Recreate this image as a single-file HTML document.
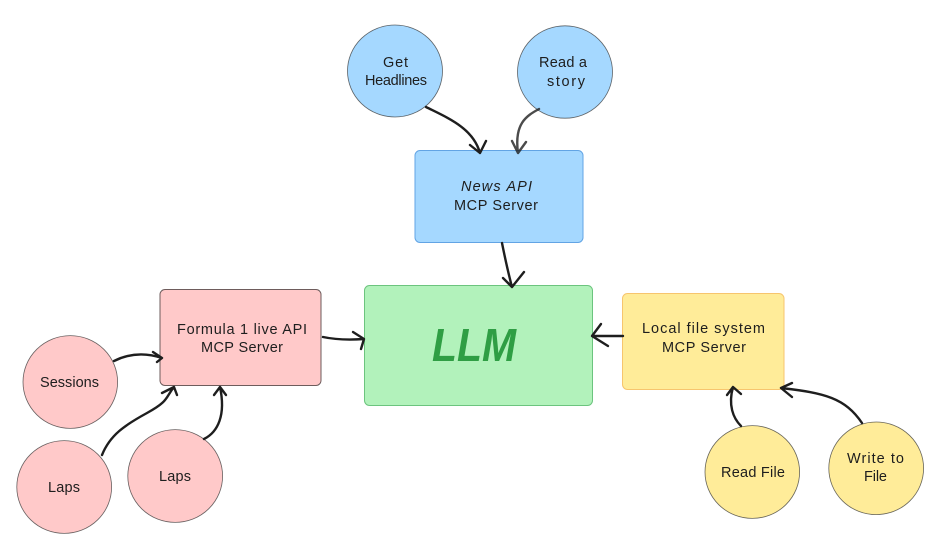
<!DOCTYPE html>
<html>
<head>
<meta charset="utf-8">
<style>
html,body{margin:0;padding:0;background:#fff;width:945px;height:558px;overflow:hidden}
svg{display:block}
text{font-family:"Liberation Sans",sans-serif;font-size:14.5px;fill:#1e1e1e}
.c{stroke:#2a2a2a;stroke-width:.8;stroke-opacity:.7}
.a{fill:none;stroke:#1e1e1e;stroke-width:2.4;stroke-linecap:round;stroke-linejoin:round}
</style>
</head>
<body>
<svg width="945" height="558" viewBox="0 0 945 558" xmlns="http://www.w3.org/2000/svg">
<rect width="945" height="558" fill="#fff"/>

<rect x="415" y="150.5" width="168" height="92" rx="5" fill="#a5d8ff" stroke="#62a4e4" stroke-width="1"/>
<rect x="364.5" y="285.5" width="228" height="120" rx="5" fill="#b2f2bb" stroke="#6cc47e" stroke-width="1"/>
<rect x="160" y="289.5" width="161" height="96" rx="5" fill="#ffc9c9" stroke="#6e5c5c" stroke-width="1"/>
<rect x="622.5" y="293.5" width="161.5" height="96" rx="5" fill="#ffec99" stroke="#f7c56e" stroke-width="1"/>

<ellipse class="c" cx="395" cy="71" rx="47.5" ry="46" fill="#a5d8ff"/>
<ellipse class="c" cx="565" cy="72" rx="47.5" ry="46.2" fill="#a5d8ff"/>
<ellipse class="c" cx="70.3" cy="382" rx="47.3" ry="46.4" fill="#ffc9c9"/>
<ellipse class="c" cx="64.2" cy="487" rx="47.4" ry="46.4" fill="#ffc9c9"/>
<ellipse class="c" cx="175.2" cy="476" rx="47.4" ry="46.4" fill="#ffc9c9"/>
<ellipse class="c" cx="752.3" cy="472" rx="47.3" ry="46.4" fill="#ffec99"/>
<ellipse class="c" cx="876.2" cy="468.3" rx="47.4" ry="46.3" fill="#ffec99"/>

<path class="a" d="M426 107C448 118 473 128 480 153M470 145L480 153L486 141"/>
<path class="a" stroke-opacity=".8" d="M539 109C526 116 514 124 518 153M512 141L518 153L526 142"/>
<path class="a" d="M502 243C505 258 508 272 512 287M503 278L512 287L524 272"/>
<path class="a" d="M323 337C337 340 350 340 364 339M353 332L364 339L361 349"/>
<path class="a" d="M114 361C128 354 144 352 162 358M153 352L162 358L157 362"/>
<path class="a" d="M102 455C110 435 125 425 147 413S165 398 174 387M162 393L174 387L177 395"/>
<path class="a" d="M204 439C218 432 226 415 220 387M214 395L220 387L226 395"/>
<path class="a" d="M623 336L592 336M601 324L592 336L608 346"/>
<path class="a" d="M741 426C733 418 728 405 733 387M727 395L733 387L741 394"/>
<path class="a" d="M862 423C845 398 825 393 781 388M792 383L781 388L792 397"/>

<text x="383" y="67" textLength="25">Get</text>
<text x="365" y="85" textLength="62">Headlines</text>
<text x="539" y="67" textLength="48">Read a</text>
<text x="547" y="86" textLength="38">story</text>
<text x="461" y="191" textLength="71" font-style="italic">News API</text>
<text x="454" y="210" textLength="84">MCP Server</text>
<text x="177" y="334" textLength="130">Formula 1 live API</text>
<text x="201" y="352" textLength="82">MCP Server</text>
<text x="642" y="333" textLength="123">Local file system</text>
<text x="662" y="352" textLength="84">MCP Server</text>
<text x="40" y="387" textLength="59">Sessions</text>
<text x="48" y="492" textLength="32">Laps</text>
<text x="159" y="481" textLength="32">Laps</text>
<text x="721" y="477" textLength="64">Read File</text>
<text x="847" y="463" textLength="57">Write to</text>
<text x="864" y="481" textLength="23">File</text>
<text x="432" y="361" textLength="84" lengthAdjust="spacingAndGlyphs" style="font-size:46px;fill:#2f9e44;font-style:italic;font-weight:bold">LLM</text>
</svg>
</body>
</html>
